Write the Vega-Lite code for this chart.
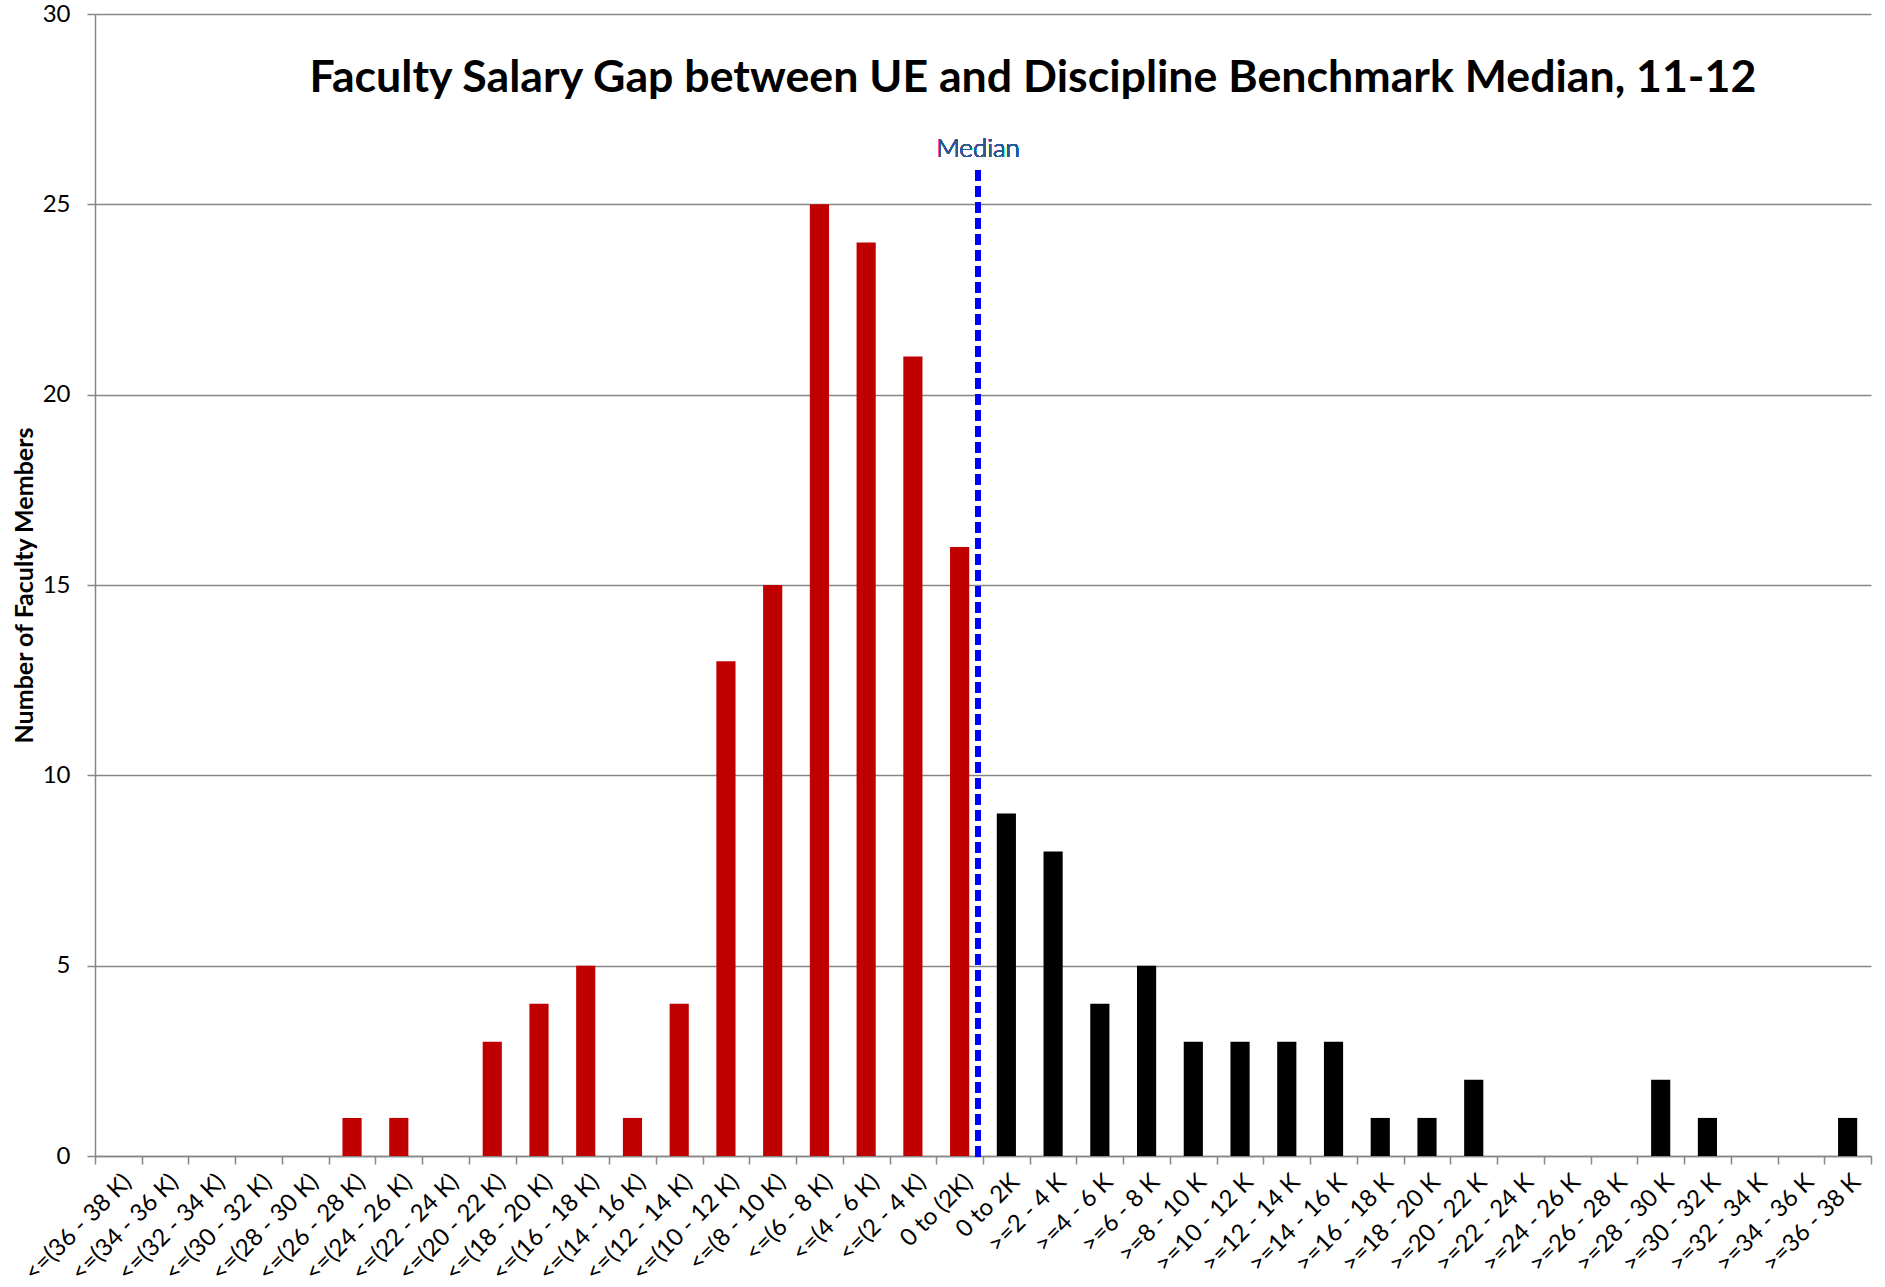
{
  "$schema": "https://vega.github.io/schema/vega-lite/v6.json",
  "width": 1776,
  "height": 1142,
  "autosize": {"type": "none"},
  "padding": {"left": 95, "top": 14, "right": 14, "bottom": 131},
  "background": "white",
  "config": {
    "view": {"stroke": null},
    "font": "Lato"
  },
  "title": {
    "text": "Faculty Salary Gap between UE and Discipline Benchmark Median, 11-12",
    "font": "Lato",
    "fontSize": 44.7,
    "fontWeight": "bold",
    "color": "#000000",
    "anchor": "middle",
    "baseline": "alphabetic",
    "dx": 50,
    "offset": -135
  },
  "data": {
    "values": [
      {"label": "<=(36 - 38 K)", "count": 0, "side": "below"},
      {"label": "<=(34 - 36 K)", "count": 0, "side": "below"},
      {"label": "<=(32 - 34 K)", "count": 0, "side": "below"},
      {"label": "<=(30 - 32 K)", "count": 0, "side": "below"},
      {"label": "<=(28 - 30 K)", "count": 0, "side": "below"},
      {"label": "<=(26 - 28 K)", "count": 1, "side": "below"},
      {"label": "<=(24 - 26 K)", "count": 1, "side": "below"},
      {"label": "<=(22 - 24 K)", "count": 0, "side": "below"},
      {"label": "<=(20 - 22 K)", "count": 3, "side": "below"},
      {"label": "<=(18 - 20 K)", "count": 4, "side": "below"},
      {"label": "<=(16 - 18 K)", "count": 5, "side": "below"},
      {"label": "<=(14 - 16 K)", "count": 1, "side": "below"},
      {"label": "<=(12 - 14 K)", "count": 4, "side": "below"},
      {"label": "<=(10 - 12 K)", "count": 13, "side": "below"},
      {"label": "<=(8 - 10 K)", "count": 15, "side": "below"},
      {"label": "<=(6 - 8 K)", "count": 25, "side": "below"},
      {"label": "<=(4 - 6 K)", "count": 24, "side": "below"},
      {"label": "<=(2 - 4 K)", "count": 21, "side": "below"},
      {"label": "0 to (2K)", "count": 16, "side": "below"},
      {"label": "0 to 2K", "count": 9, "side": "above"},
      {"label": ">=2 - 4 K", "count": 8, "side": "above"},
      {"label": ">=4 - 6 K", "count": 4, "side": "above"},
      {"label": ">=6 - 8 K", "count": 5, "side": "above"},
      {"label": ">=8 - 10 K", "count": 3, "side": "above"},
      {"label": ">=10 - 12 K", "count": 3, "side": "above"},
      {"label": ">=12 - 14 K", "count": 3, "side": "above"},
      {"label": ">=14 - 16 K", "count": 3, "side": "above"},
      {"label": ">=16 - 18 K", "count": 1, "side": "above"},
      {"label": ">=18 - 20 K", "count": 1, "side": "above"},
      {"label": ">=20 - 22 K", "count": 2, "side": "above"},
      {"label": ">=22 - 24 K", "count": 0, "side": "above"},
      {"label": ">=24 - 26 K", "count": 0, "side": "above"},
      {"label": ">=26 - 28 K", "count": 0, "side": "above"},
      {"label": ">=28 - 30 K", "count": 2, "side": "above"},
      {"label": ">=30 - 32 K", "count": 1, "side": "above"},
      {"label": ">=32 - 34 K", "count": 0, "side": "above"},
      {"label": ">=34 - 36 K", "count": 0, "side": "above"},
      {"label": ">=36 - 38 K", "count": 1, "side": "above"}
    ]
  },
  "encoding": {
    "x": {
      "field": "label",
      "type": "nominal",
      "sort": null,
      "scale": {"paddingInner": 0, "paddingOuter": 0},
      "axis": {
        "title": null,
        "tickBand": "extent",
        "labelAngle": -45,
        "labelAlign": "right",
        "labelBaseline": "middle",
        "labelFont": "Lato",
        "labelFontSize": 24,
        "labelColor": "#000000",
        "labelOffset": 9,
        "labelPadding": 14,
        "labelOverlap": false,
        "labelBound": false,
        "labelFlush": false,
        "tickSize": 8,
        "tickColor": "#868686",
        "tickWidth": 1.5,
        "domainColor": "#868686",
        "domainWidth": 1.5,
        "grid": false
      }
    }
  },
  "layer": [
    {
      "mark": {"type": "bar", "width": {"band": 0.41}},
      "encoding": {
        "y": {
          "field": "count",
          "type": "quantitative",
          "scale": {"domain": [0, 30], "nice": false},
          "axis": {
            "title": "Number of Faculty Members",
            "titleFont": "Lato",
            "titleFontSize": 25,
            "titleFontWeight": "bold",
            "titleColor": "#000000",
            "titleAngle": -90,
            "titleBaseline": "alphabetic",
            "titleX": -63,
            "titleY": 571,
            "values": [0, 5, 10, 15, 20, 25, 30],
            "labelFont": "Lato",
            "labelFontSize": 24,
            "labelColor": "#000000",
            "labelPadding": 17,
            "tickSize": 8,
            "tickColor": "#868686",
            "tickWidth": 1.5,
            "domainColor": "#868686",
            "domainWidth": 1.5,
            "grid": true,
            "gridColor": "#868686",
            "gridWidth": 1.3
          }
        },
        "color": {
          "field": "side",
          "type": "nominal",
          "scale": {"domain": ["below", "above"], "range": ["#C00000", "#000000"]},
          "legend": null
        }
      }
    },
    {
      "mark": {"type": "rule", "color": "#0000FF", "strokeWidth": 5, "strokeDash": [11, 5], "xOffset": -5},
      "encoding": {
        "x": {"datum": "0 to 2K", "bandPosition": 0},
        "y": {"datum": 25.9},
        "y2": {"datum": -0.1}
      }
    },
    {
      "mark": {"type": "text", "text": "Median", "font": "Lato", "fontSize": 26, "fontWeight": 300, "color": "#2A5A94", "align": "center", "baseline": "alphabetic", "xOffset": -5},
      "encoding": {
        "x": {"datum": "0 to 2K", "bandPosition": 0},
        "y": {"datum": 26.25}
      }
    }
  ]
}
